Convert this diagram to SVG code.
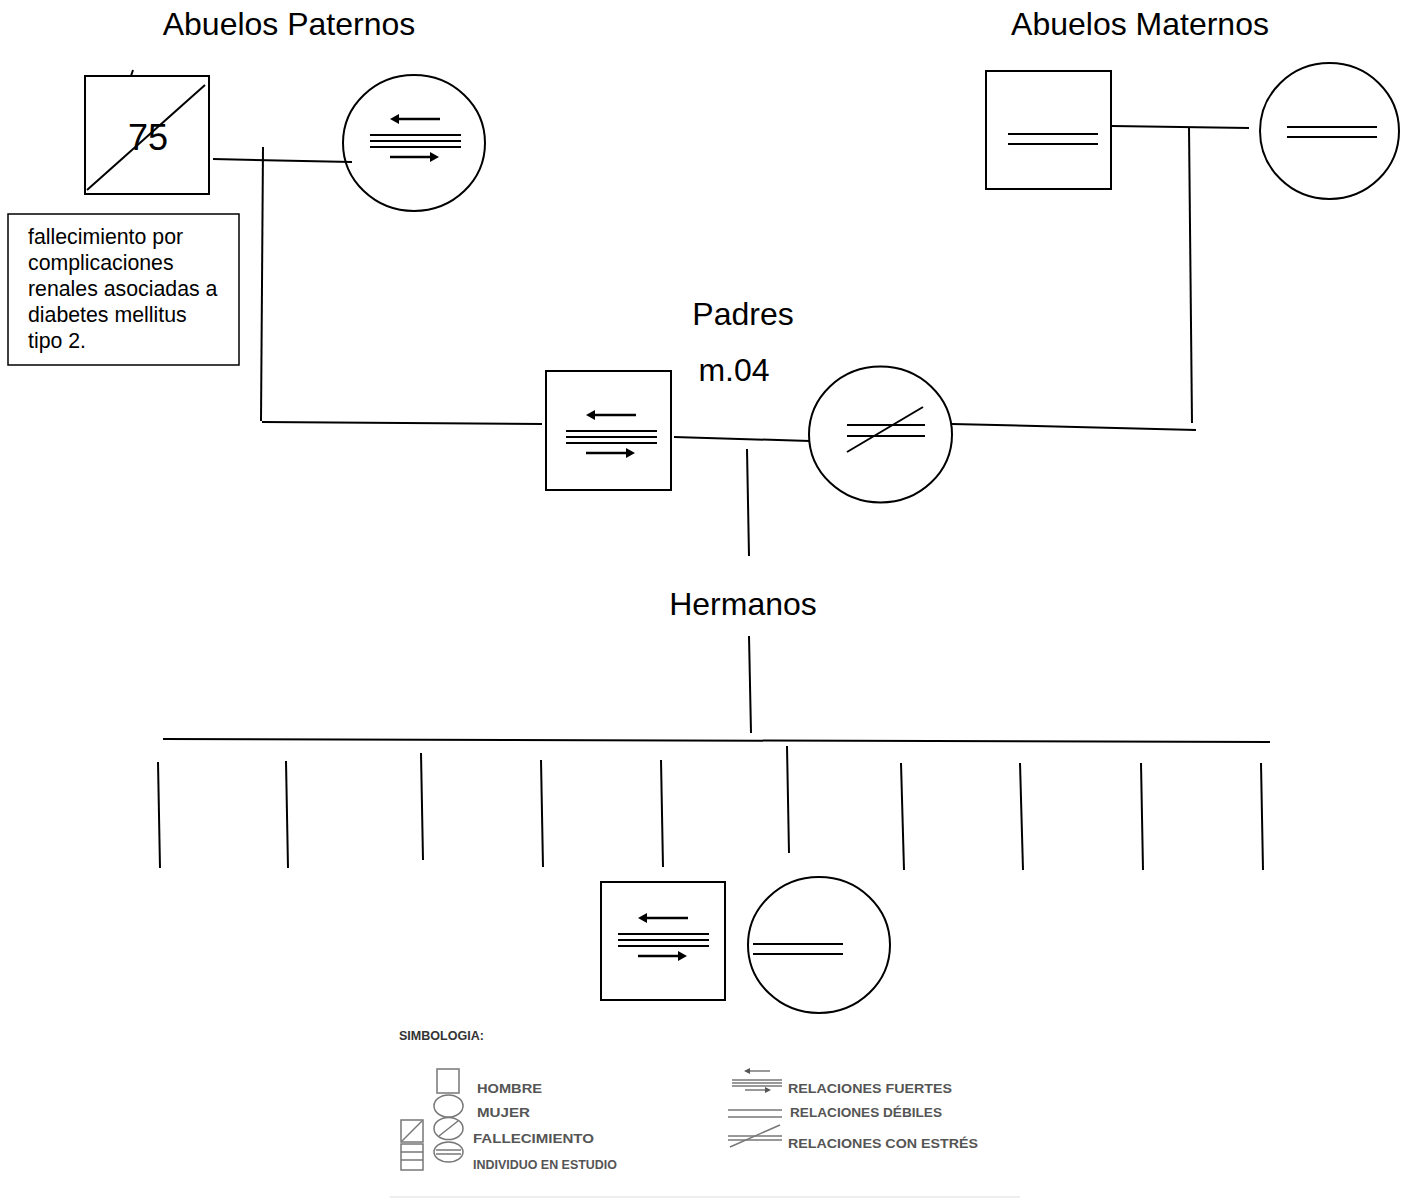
<svg xmlns="http://www.w3.org/2000/svg" xmlns:xlink="http://www.w3.org/1999/xlink" width="1411" height="1201" viewBox="0 0 1411 1201">
<style>
.shape{fill:none;stroke:#000;stroke-width:2}
.ln{fill:none;stroke:#000;stroke-width:2}
.title{font-family:"Liberation Sans",Arial,sans-serif;font-size:32px;fill:#000}
.note{font-family:"Liberation Sans",Arial,sans-serif;font-size:21.3px;fill:#000}
.leg{font-family:"Liberation Sans",Arial,sans-serif;font-size:13px;font-weight:bold;fill:#555}
.legs{fill:none;stroke:#777;stroke-width:1.5}
</style>
<defs>
<g id="strong">
<line x1="27" y1="-22" x2="70" y2="-22" stroke="#000" stroke-width="2.5"/>
<polygon points="20,-22 29,-27 29,-17" fill="#000"/>
<line x1="0" y1="-6" x2="91" y2="-6" stroke="#000" stroke-width="2"/>
<line x1="0" y1="0" x2="91" y2="0" stroke="#000" stroke-width="2"/>
<line x1="0" y1="6" x2="91" y2="6" stroke="#000" stroke-width="2"/>
<line x1="20" y1="16" x2="61" y2="16" stroke="#000" stroke-width="2.5"/>
<polygon points="69,16 60,11 60,21" fill="#000"/>
</g>
<g id="weak">
<line x1="0" y1="0" x2="90" y2="0" stroke="#000" stroke-width="2.2"/>
<line x1="0" y1="10" x2="90" y2="10" stroke="#000" stroke-width="2.2"/>
</g>
</defs>
<rect width="1411" height="1201" fill="#fff"/>

<g id="labels">
<text class="title" x="289" y="35" text-anchor="middle">Abuelos Paternos</text>
<text class="title" x="1140" y="35" text-anchor="middle">Abuelos Maternos</text>
<text class="title" x="743" y="325" text-anchor="middle">Padres</text>
<text class="title" x="734" y="381" text-anchor="middle">m.04</text>
<text class="title" x="743" y="615" text-anchor="middle">Hermanos</text>
</g>

<g id="connectors">
<line class="ln" x1="131" y1="76" x2="133" y2="70"/>
<line class="ln" x1="213" y1="159" x2="352" y2="162"/>
<line class="ln" x1="263" y1="147" x2="261" y2="421"/>
<line class="ln" x1="262" y1="422" x2="542" y2="424"/>
<line class="ln" x1="1112" y1="126" x2="1249" y2="128"/>
<line class="ln" x1="1189" y1="127" x2="1192" y2="423"/>
<line class="ln" x1="952" y1="424" x2="1196" y2="430"/>
<line class="ln" x1="674" y1="437" x2="810" y2="441"/>
<line class="ln" x1="747" y1="449" x2="749" y2="556"/>
<line class="ln" x1="749" y1="636" x2="751" y2="733"/>
<line class="ln" x1="163" y1="739" x2="1270" y2="742"/>
<line class="ln" x1="158" y1="762" x2="160" y2="868"/>
<line class="ln" x1="286" y1="761" x2="288" y2="868"/>
<line class="ln" x1="421" y1="753" x2="423" y2="860"/>
<line class="ln" x1="541" y1="760" x2="543" y2="867"/>
<line class="ln" x1="661" y1="760" x2="663" y2="867"/>
<line class="ln" x1="787" y1="746" x2="789" y2="853"/>
<line class="ln" x1="901" y1="763" x2="904" y2="870"/>
<line class="ln" x1="1020" y1="763" x2="1023" y2="870"/>
<line class="ln" x1="1141" y1="763" x2="1143" y2="870"/>
<line class="ln" x1="1261" y1="763" x2="1263" y2="870"/>
</g>

<g id="abuelo-paterno">
<rect class="shape" x="85" y="76" width="124" height="118"/>
<line class="ln" x1="87" y1="190" x2="205" y2="85"/>
<text x="148" y="150" text-anchor="middle" font-family="Liberation Sans, Arial, sans-serif" font-size="36">75</text>
</g>

<g id="nota">
<rect x="8" y="214" width="231" height="151" fill="none" stroke="#000" stroke-width="1.5"/>
<text class="note" x="28" y="244">fallecimiento por</text>
<text class="note" x="28" y="270">complicaciones</text>
<text class="note" x="28" y="296">renales asociadas a</text>
<text class="note" x="28" y="322">diabetes mellitus</text>
<text class="note" x="28" y="348">tipo 2.</text>
</g>

<g id="abuela-paterna">
<ellipse class="shape" cx="414" cy="143" rx="71" ry="68"/>
<use xlink:href="#strong" x="370" y="141"/>
</g>

<g id="abuelo-materno">
<rect class="shape" x="986" y="71" width="125" height="118"/>
<use xlink:href="#weak" x="1008" y="134"/>
</g>

<g id="abuela-materna">
<ellipse class="shape" cx="1329.5" cy="131" rx="69.5" ry="68"/>
<use xlink:href="#weak" x="1287" y="127"/>
</g>

<g id="padre">
<rect class="shape" x="546" y="371" width="125" height="119"/>
<use xlink:href="#strong" x="566" y="437"/>
</g>

<g id="madre">
<ellipse class="shape" cx="880.5" cy="434.5" rx="71.5" ry="68"/>
<line x1="847" y1="425" x2="925" y2="425" stroke="#000" stroke-width="2.2"/>
<line x1="847" y1="436" x2="925" y2="436" stroke="#000" stroke-width="2.2"/>
<line x1="847" y1="452" x2="923" y2="407" stroke="#000" stroke-width="2"/>
</g>

<g id="hijo">
<rect class="shape" x="601" y="882" width="124" height="118"/>
<use xlink:href="#strong" x="618" y="940"/>
</g>

<g id="hija">
<ellipse class="shape" cx="819" cy="945" rx="71" ry="68"/>
<use xlink:href="#weak" x="753" y="944"/>
</g>

<g id="simbologia">
<text class="leg" x="399" y="1040" textLength="85" lengthAdjust="spacingAndGlyphs" fill="#333" style="fill:#333">SIMBOLOGIA:</text>
<rect class="legs" x="437" y="1069" width="22" height="24"/>
<ellipse class="legs" cx="448.5" cy="1106" rx="14.5" ry="11"/>
<ellipse class="legs" cx="448.5" cy="1128.5" rx="14.5" ry="11"/>
<line class="legs" x1="439" y1="1136" x2="458" y2="1121"/>
<ellipse class="legs" cx="448.5" cy="1152" rx="14.5" ry="10"/>
<line class="legs" x1="436" y1="1150" x2="461" y2="1150"/>
<line class="legs" x1="436" y1="1154" x2="461" y2="1154"/>
<rect class="legs" x="401" y="1120" width="22" height="22"/>
<line class="legs" x1="402" y1="1141" x2="422" y2="1121"/>
<rect class="legs" x="401" y="1144" width="22" height="26"/>
<line class="legs" x1="401" y1="1152" x2="423" y2="1152"/>
<line class="legs" x1="401" y1="1160" x2="423" y2="1160"/>
<text class="leg" x="477" y="1093" textLength="65" lengthAdjust="spacingAndGlyphs">HOMBRE</text>
<text class="leg" x="477" y="1117" textLength="53" lengthAdjust="spacingAndGlyphs">MUJER</text>
<text class="leg" x="473" y="1143" textLength="121" lengthAdjust="spacingAndGlyphs">FALLECIMIENTO</text>
<text class="leg" x="473" y="1169" textLength="144" lengthAdjust="spacingAndGlyphs">INDIVIDUO EN ESTUDIO</text>
<line class="legs" x1="749" y1="1071" x2="770" y2="1071"/>
<polygon points="744,1071 750,1068 750,1074" fill="#555"/>
<line class="legs" x1="732" y1="1080" x2="782" y2="1080"/>
<line class="legs" x1="732" y1="1083" x2="782" y2="1083"/>
<line class="legs" x1="732" y1="1086" x2="782" y2="1086"/>
<line class="legs" x1="745" y1="1090" x2="766" y2="1090"/>
<polygon points="771,1090 765,1087 765,1093" fill="#555"/>
<line class="legs" x1="728" y1="1110" x2="782" y2="1110"/>
<line class="legs" x1="728" y1="1117" x2="782" y2="1117"/>
<line class="legs" x1="728" y1="1136" x2="782" y2="1136"/>
<line class="legs" x1="728" y1="1140" x2="782" y2="1140"/>
<line class="legs" x1="730" y1="1147" x2="780" y2="1125"/>
<text class="leg" x="788" y="1093" textLength="164" lengthAdjust="spacingAndGlyphs">RELACIONES FUERTES</text>
<text class="leg" x="790" y="1117" textLength="152" lengthAdjust="spacingAndGlyphs">RELACIONES DÉBILES</text>
<text class="leg" x="788" y="1148" textLength="190" lengthAdjust="spacingAndGlyphs">RELACIONES CON ESTRÉS</text>
<line x1="390" y1="1197" x2="1020" y2="1197" stroke="#eee" stroke-width="2"/>
</g>
</svg>
